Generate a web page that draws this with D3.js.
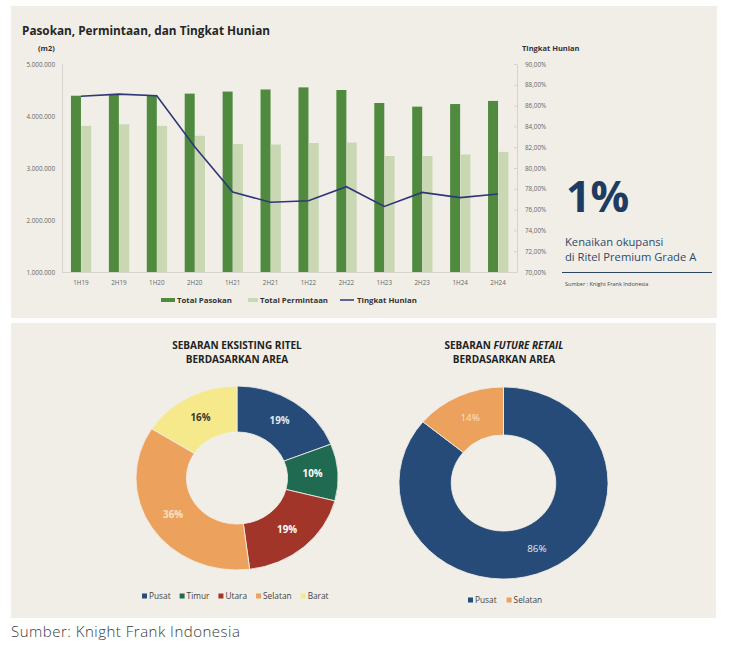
<!DOCTYPE html>
<html><head><meta charset="utf-8">
<script src="https://cdn.jsdelivr.net/npm/d3@7"></script>
<style>
html,body{margin:0;padding:0;background:#fff;}
svg{display:block;}
text{font-family:"Open Sans","Noto Sans",sans-serif;}
</style></head>
<body>
<svg id="c" width="732" height="654"></svg>
<script>
// ---------- DATA ----------
const periods = ["1H19","2H19","1H20","2H20","1H21","2H21","1H22","2H22","1H23","2H23","1H24","2H24"];
const totalPasokan = [4390000,4420000,4390000,4430000,4470000,4510000,4550000,4500000,4250000,4180000,4230000,4290000];
const totalPermintaan = [3810000,3840000,3810000,3620000,3460000,3450000,3480000,3490000,3230000,3230000,3260000,3310000];
const tingkatHunian = [0.869,0.871,0.8695,0.8205,0.777,0.767,0.7685,0.782,0.763,0.7765,0.7715,0.775];
const leftTicks = [1000000,2000000,3000000,4000000,5000000];
const rightTicks = [0.70,0.72,0.74,0.76,0.78,0.80,0.82,0.84,0.86,0.88,0.90];

const eksAreas = ["Pusat","Timur","Utara","Selatan","Barat"];
const eksValues = [19,10,19,36,16];
const futAreas = ["Pusat","Selatan"];
const futValues = [86,14];

const areaColors = {Pusat:"#274b79",Timur:"#1f6a50",Utara:"#a1352a",Selatan:"#eca25d",Barat:"#f6e98c"};
const labelColors = {Pusat:"#e3e9f2",Timur:"#ffffff",Utara:"#ffffff",Selatan:"#f8e2c8",Barat:"#3a3a2a"};

const svg = d3.select("#c");
const panelBg = "#f1eee8";

// panels
svg.append("rect").attr("x",11).attr("y",6).attr("width",706).attr("height",312).attr("fill",panelBg);
svg.append("rect").attr("x",11).attr("y",323).attr("width",705).attr("height",295).attr("fill",panelBg);

// ---------- BAR / LINE CHART ----------
const g = svg.append("g");
g.append("text").attr("x",22).attr("y",35).attr("font-size",13.2).attr("font-weight",700)
  .attr("fill","#262626").attr("textLength",248).attr("lengthAdjust","spacingAndGlyphs")
  .text("Pasokan, Permintaan, dan Tingkat Hunian");
g.append("text").attr("x",38).attr("y",51).attr("font-size",7.5).attr("font-weight",700).attr("fill","#333").text("(m2)");
g.append("text").attr("x",522).attr("y",51).attr("font-size",7.5).attr("font-weight",700).attr("fill","#333").text("Tingkat Hunian");

const x = d3.scaleBand().domain(periods).range([62,517]);
const y = d3.scaleLinear().domain([1000000,5000000]).range([272,64]);
const yR = d3.scaleLinear().domain([0.70,0.90]).range([272,64]);
const fmtL = d => d3.format(",")(d).replace(/,/g,".");
const fmtR = d => (d*100).toFixed(2).replace(".",",")+"%";

// left axis
const la = g.append("g").attr("transform","translate(62,0)")
  .call(d3.axisLeft(y).tickValues(leftTicks).tickSize(0).tickPadding(7).tickFormat(fmtL));
la.select(".domain").attr("stroke","#d6d3cd");
la.selectAll("text").attr("font-size",6.3).attr("fill","#666").attr("font-family","Open Sans");
// right axis
const ra = g.append("g").attr("transform","translate(517,0)")
  .call(d3.axisRight(yR).tickValues(rightTicks).tickSizeInner(-3).tickSizeOuter(0).tickPadding(8).tickFormat(fmtR));
ra.select(".domain").attr("stroke","#d6d3cd");
ra.selectAll(".tick line").attr("stroke","#d6d3cd");
ra.selectAll("text").attr("font-size",6.3).attr("fill","#666").attr("font-family","Open Sans");
// bottom axis
const ba = g.append("g").attr("transform","translate(0,272)")
  .call(d3.axisBottom(x).tickSize(0).tickPadding(9));
ba.select(".domain").attr("stroke","#d6d3cd");
ba.selectAll("text").attr("font-size",6.3).attr("fill","#666").attr("font-family","Open Sans");

const bw = 10;
g.selectAll(".bp").data(periods).join("rect").attr("class","bp")
  .attr("x",d=>x(d)+x.bandwidth()/2-bw).attr("width",bw)
  .attr("y",(d,i)=>y(totalPasokan[i])).attr("height",(d,i)=>272-y(totalPasokan[i]))
  .attr("fill","#4f8a3e");
g.selectAll(".bm").data(periods).join("rect").attr("class","bm")
  .attr("x",d=>x(d)+x.bandwidth()/2+0.3).attr("width",bw)
  .attr("y",(d,i)=>y(totalPermintaan[i])).attr("height",(d,i)=>272-y(totalPermintaan[i]))
  .attr("fill","#c9d8b2");
const line = d3.line().x((d,i)=>x(periods[i])+x.bandwidth()/2).y(d=>yR(d));
g.append("path").datum(tingkatHunian).attr("d",line).attr("fill","none")
  .attr("stroke","#2f3779").attr("stroke-width",1.6);

// legend
const lg = g.append("g").attr("font-size",7.8).attr("font-weight",700).attr("fill","#333");
lg.append("rect").attr("x",161).attr("y",298).attr("width",14).attr("height",4).attr("fill","#4f8a3e");
lg.append("text").attr("x",177).attr("y",302.8).attr("fill","#333").text("Total Pasokan");
lg.append("rect").attr("x",248).attr("y",298).attr("width",10).attr("height",4).attr("fill","#c9d8b2");
lg.append("text").attr("x",260).attr("y",302.8).attr("fill","#333").text("Total Permintaan");
lg.append("line").attr("x1",340).attr("x2",354).attr("y1",300).attr("y2",300).attr("stroke","#2f3779").attr("stroke-width",1.5);
lg.append("text").attr("x",357).attr("y",302.8).attr("fill","#333").text("Tingkat Hunian");

// 1% callout
g.append("text").attr("x",566).attr("y",212).attr("font-size",43).attr("font-weight",700)
  .attr("fill","#1e3b62").text("1%");
g.append("text").attr("x",565).attr("y",246).attr("font-size",11.2).attr("fill","#2e4a6a").text("Kenaikan okupansi");
g.append("text").attr("x",565).attr("y",261).attr("font-size",11.2).attr("fill","#2e4a6a").text("di Ritel Premium Grade A");
g.append("line").attr("x1",562).attr("x2",712).attr("y1",272.5).attr("y2",272.5).attr("stroke","#2c4660").attr("stroke-width",1.2);
g.append("text").attr("x",565).attr("y",286).attr("font-size",5.5).attr("fill","#444").text("Sumber : Knight Frank Indonesia");

// ---------- DONUTS ----------
function donut(cx, cy, r, sx, areas, values, labelWeight){
  const pie = d3.pie().sort(null).value((d,i)=>values[i]);
  const arcs = pie(areas);
  const arc = d3.arc().outerRadius(r).innerRadius(r*0.5);
  const lab = d3.arc().outerRadius(r*0.75).innerRadius(r*0.75);
  const gg = svg.append("g").attr("transform",`translate(${cx},${cy})`);
  gg.append("g").attr("transform",`scale(${sx},1)`).selectAll("path").data(arcs).join("path")
    .attr("d",arc).attr("fill",d=>areaColors[d.data]).attr("stroke","#f1eee8").attr("stroke-width",0.8);
  gg.selectAll("text").data(arcs).join("text")
    .attr("x",d=>lab.centroid(d)[0]*sx).attr("y",d=>lab.centroid(d)[1]+3.5)
    .attr("text-anchor","middle").attr("font-size",9.8).attr("font-weight",labelWeight)
    .attr("fill",d=>labelColors[d.data]).text((d,i)=>values[i]+"%");
}
donut(237,478,92,1.098,eksAreas,eksValues,700);
donut(503.5,483,96,1.089,futAreas,futValues,400);

// titles
const t1 = svg.append("g").attr("font-size",10).attr("font-weight",700).attr("fill","#222").attr("text-anchor","middle");
t1.append("text").attr("x",237).attr("y",349).text("SEBARAN EKSISTING RITEL");
t1.append("text").attr("x",237).attr("y",363).text("BERDASARKAN AREA");
const t2 = t1.append("text").attr("x",504).attr("y",349);
t2.append("tspan").text("SEBARAN ");
t2.append("tspan").attr("font-style","italic").text("FUTURE RETAIL");
t1.append("text").attr("x",504).attr("y",363).text("BERDASARKAN AREA");

// donut legends
function legend(x0, yc, areas, gaps){
  const lg = svg.append("g").attr("font-size",8.3).attr("fill","#444");
  let xx = x0;
  areas.forEach((a,i)=>{
    lg.append("rect").attr("x",xx).attr("y",yc-2.5).attr("width",5).attr("height",5).attr("fill",areaColors[a]);
    const t = lg.append("text").attr("x",xx+7).attr("y",yc+3).text(a);
    xx += 7 + t.node().getComputedTextLength() + gaps;
  });
}
legend(142,596,eksAreas,9);
legend(468,600,futAreas,10);

svg.append("text").attr("x",11).attr("y",637).attr("font-size",15).attr("font-family","Lato")
  .attr("font-weight",300).attr("letter-spacing",0.5).attr("fill","#3a3a3a").text("Sumber: Knight Frank Indonesia");
</script>
</body></html>
